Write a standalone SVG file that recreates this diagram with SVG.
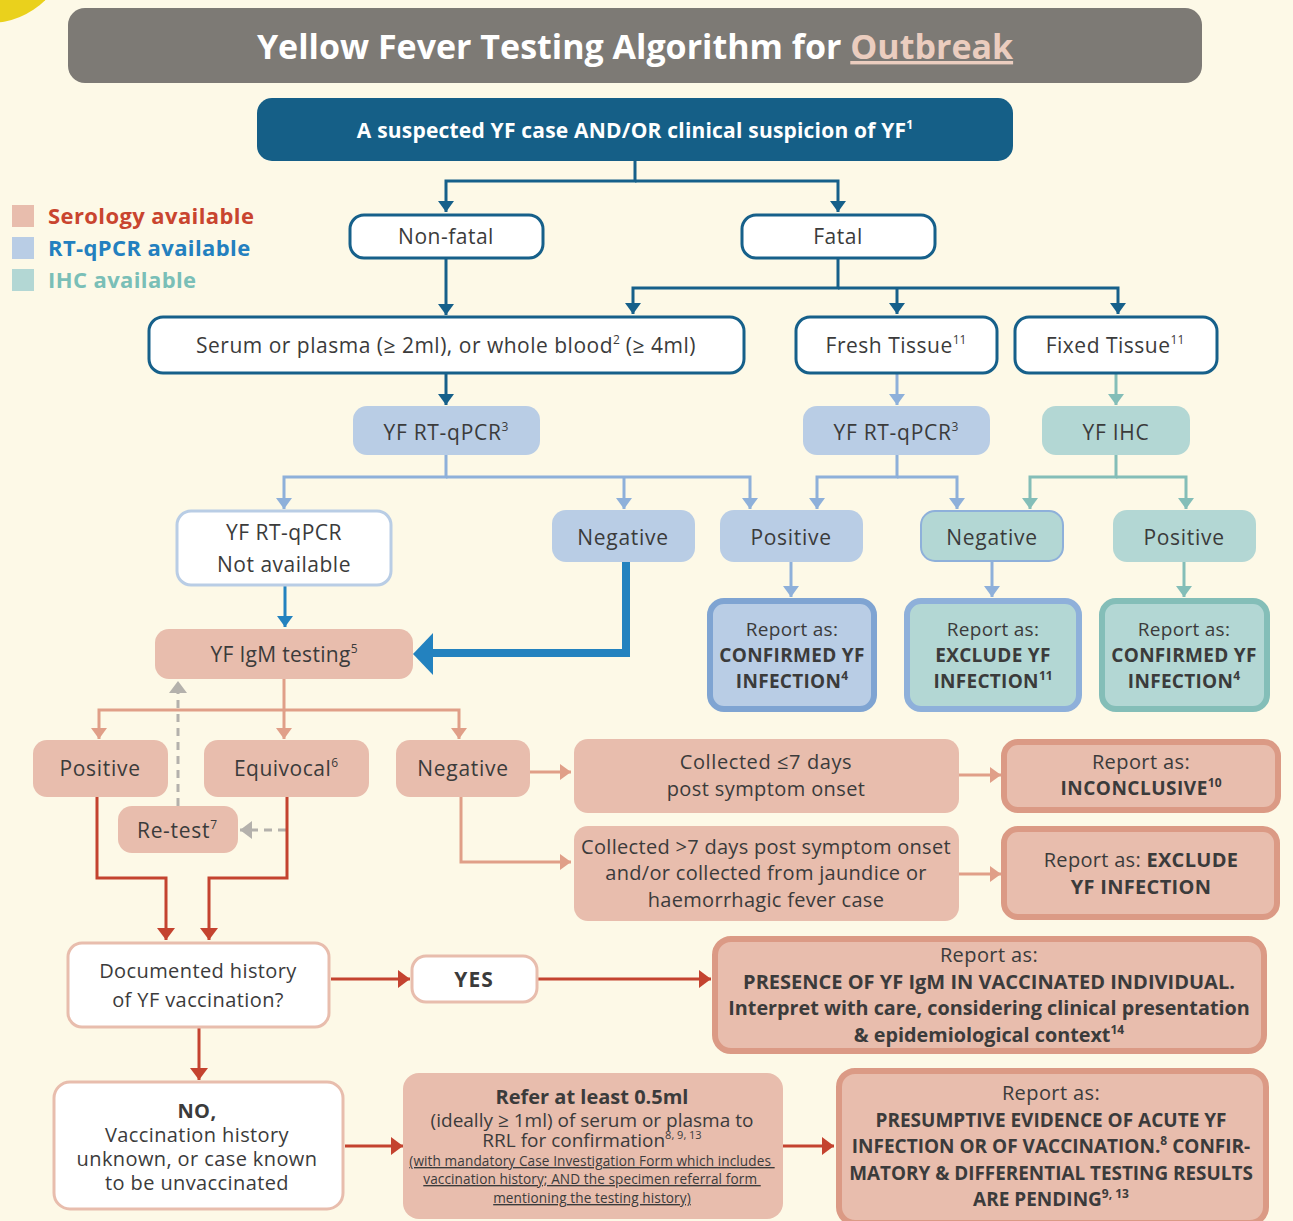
<svg xmlns="http://www.w3.org/2000/svg" width="1293" height="1221" viewBox="0 0 1293 1221">
<defs>
<style>
text{font-family:"Open Sans","Noto Sans","Liberation Sans",sans-serif;fill:#3B3B3B;text-anchor:middle;font-size:21px;letter-spacing:0.5px}
.b{font-weight:bold}
.m{font-size:20px;letter-spacing:0.4px}
.r{font-size:19px;letter-spacing:0.3px}
.sm{font-size:13.6px;letter-spacing:0.1px;text-decoration:underline}
.sup{font-size:12px;letter-spacing:0}
.ln{fill:none;stroke-width:3}
.db{stroke:#16608A}
.lb{stroke:#8EB0DA}
.tl{stroke:#84BEB8}
.sa{stroke:#E09F88}
.rd{stroke:#C4432F}
.gy{stroke:#B4B1AC;stroke-dasharray:8 6}
.nW{fill:#fff;stroke:#16608A;stroke-width:3}
.nB{fill:#B9CDE5}
.nT{fill:#B3D7D4}
.nS{fill:#E8BDAD}
.nWS{fill:#fff;stroke:#E8BDAD;stroke-width:3}
.rB{fill:#B9CDE5;stroke:#7FA4D2;stroke-width:6}
.rT{fill:#B3D7D4;stroke:#8EB0DA;stroke-width:6}
.rTT{fill:#B3D7D4;stroke:#84BEB8;stroke-width:6}
.rS{fill:#E8BDAD;stroke:#DB9A85;stroke-width:6}
</style>
<marker id="mDB" viewBox="0 0 10 10" refX="10" refY="5" markerWidth="11" markerHeight="16" markerUnits="userSpaceOnUse" orient="auto" preserveAspectRatio="none"><path d="M0,0L10,5L0,10z" fill="#16608A"/></marker>
<marker id="mLB" viewBox="0 0 10 10" refX="10" refY="5" markerWidth="11" markerHeight="16" markerUnits="userSpaceOnUse" orient="auto" preserveAspectRatio="none"><path d="M0,0L10,5L0,10z" fill="#8EB0DA"/></marker>
<marker id="mTL" viewBox="0 0 10 10" refX="10" refY="5" markerWidth="11" markerHeight="16" markerUnits="userSpaceOnUse" orient="auto" preserveAspectRatio="none"><path d="M0,0L10,5L0,10z" fill="#84BEB8"/></marker>
<marker id="mSA" viewBox="0 0 10 10" refX="10" refY="5" markerWidth="11" markerHeight="16" markerUnits="userSpaceOnUse" orient="auto" preserveAspectRatio="none"><path d="M0,0L10,5L0,10z" fill="#E09F88"/></marker>
<marker id="mRD" viewBox="0 0 10 10" refX="10" refY="5" markerWidth="12" markerHeight="18" markerUnits="userSpaceOnUse" orient="auto" preserveAspectRatio="none"><path d="M0,0L10,5L0,10z" fill="#C4432F"/></marker>
<marker id="mBL" viewBox="0 0 10 10" refX="10" refY="5" markerWidth="11" markerHeight="16" markerUnits="userSpaceOnUse" orient="auto" preserveAspectRatio="none"><path d="M0,0L10,5L0,10z" fill="#2382BF"/></marker>
<marker id="mGY" viewBox="0 0 10 10" refX="10" refY="5" markerWidth="12" markerHeight="18" markerUnits="userSpaceOnUse" orient="auto" preserveAspectRatio="none"><path d="M0,0L10,5L0,10z" fill="#B4B1AC"/></marker>
</defs>
<rect width="1293" height="1221" fill="#FDF9E7"/>
<circle cx="-10" cy="-55" r="78" fill="#EAD11C"/>

<g id="title">
<rect x="68" y="8" width="1134" height="75" rx="17" fill="#7D7A75"/>
<text x="635" y="59" class="b" style="font-size:34px;letter-spacing:0"><tspan fill="#fff">Yellow Fever Testing Algorithm for </tspan><tspan fill="#EBCDBF" text-decoration="underline">Outbreak</tspan></text>
</g>

<g id="legend">
<rect x="12" y="205" width="22" height="22" fill="#E8BDAD"/>
<rect x="12" y="237" width="22" height="22" fill="#B9CDE5"/>
<rect x="12" y="269" width="22" height="22" fill="#B3D7D4"/>
<text x="48" y="224" class="b" style="text-anchor:start;fill:#C9452F;font-size:22px;letter-spacing:0.4px">Serology available</text>
<text x="48" y="256" class="b" style="text-anchor:start;fill:#2380BF;font-size:22px;letter-spacing:0.4px">RT-qPCR available</text>
<text x="48" y="288" class="b" style="text-anchor:start;fill:#7ABFB7;font-size:22px;letter-spacing:0.4px">IHC available</text>
</g>

<g id="connectors">
<path class="ln db" d="M635,161V181H446V212" marker-end="url(#mDB)"/>
<path class="ln db" d="M635,181H838V212" marker-end="url(#mDB)"/>
<path class="ln db" d="M446,258V315" marker-end="url(#mDB)"/>
<path class="ln db" d="M838,258V288H633V314" marker-end="url(#mDB)"/>
<path class="ln db" d="M838,288H1118V314" marker-end="url(#mDB)"/>
<path class="ln db" d="M897,288V314" marker-end="url(#mDB)"/>
<path class="ln db" d="M446,373V405" marker-end="url(#mDB)"/>
<path class="ln lb" d="M897,373V405" marker-end="url(#mLB)"/>
<path class="ln tl" d="M1116,373V405" marker-end="url(#mTL)"/>
<path class="ln lb" d="M446,455V477H284V509" marker-end="url(#mLB)"/>
<path class="ln lb" d="M446,477H750V509" marker-end="url(#mLB)"/>
<path class="ln lb" d="M624,477V509" marker-end="url(#mLB)"/>
<path class="ln lb" d="M897,455V477H817V509" marker-end="url(#mLB)"/>
<path class="ln lb" d="M897,477H957V509" marker-end="url(#mLB)"/>
<path class="ln tl" d="M1116,455V477H1030V509" marker-end="url(#mTL)"/>
<path class="ln tl" d="M1116,477H1186V509" marker-end="url(#mTL)"/>
<path class="ln lb" d="M791,562V597" marker-end="url(#mLB)"/>
<path class="ln lb" d="M992,562V597" marker-end="url(#mLB)"/>
<path class="ln tl" d="M1184,562V597" marker-end="url(#mTL)"/>
<path fill="none" stroke="#2382BF" stroke-width="3" d="M285,585V627" marker-end="url(#mBL)"/>
<path fill="none" stroke="#2382BF" stroke-width="8" d="M626,562V653H430"/>
<path fill="#2382BF" d="M413,654L433,633V675z"/>
<path class="ln sa" d="M284,679V710H99V739" marker-end="url(#mSA)"/>
<path class="ln sa" d="M284,710H459V739" marker-end="url(#mSA)"/>
<path class="ln sa" d="M284,710V739" marker-end="url(#mSA)"/>
<path class="ln gy" d="M178,806V681" marker-end="url(#mGY)"/>
<path class="ln gy" d="M286,830H240" marker-end="url(#mGY)"/>
<path class="ln sa" d="M530,772H571" marker-end="url(#mSA)"/>
<path class="ln sa" d="M461,797V862H571" marker-end="url(#mSA)"/>
<path class="ln sa" d="M959,775H1001" marker-end="url(#mSA)"/>
<path class="ln sa" d="M959,874H1001" marker-end="url(#mSA)"/>
<path class="ln rd" d="M97,797V878H166V940" marker-end="url(#mRD)"/>
<path class="ln rd" d="M287,797V878H209V940" marker-end="url(#mRD)"/>
<path class="ln rd" d="M331,979H410" marker-end="url(#mRD)"/>
<path class="ln rd" d="M538,979H711" marker-end="url(#mRD)"/>
<path class="ln rd" d="M199,1028V1080" marker-end="url(#mRD)"/>
<path class="ln rd" d="M345,1146H403" marker-end="url(#mRD)"/>
<path class="ln rd" d="M783,1146H834" marker-end="url(#mRD)"/>
</g>

<g id="n-start"><rect x="257" y="98" width="756" height="63" rx="15" fill="#155F87"/>
<text x="635" y="138" class="b" style="fill:#fff;letter-spacing:0.2px">A suspected YF case AND/OR clinical suspicion of YF<tspan class="sup" font-size="11" dy="-9">1</tspan></text></g>

<g id="n-nonfatal"><rect x="350" y="215" width="193" height="43" rx="14" class="nW"/><text x="446" y="244">Non-fatal</text></g>
<g id="n-fatal"><rect x="742" y="215" width="193" height="43" rx="14" class="nW"/><text x="838" y="244">Fatal</text></g>

<g id="n-serum"><rect x="149" y="317" width="595" height="56" rx="14" class="nW"/><text x="446" y="353">Serum or plasma (≥ 2ml), or whole blood<tspan class="sup" dy="-9">2</tspan><tspan dy="9"> (≥ 4ml)</tspan></text></g>
<g id="n-fresh"><rect x="796" y="317" width="201" height="56" rx="14" class="nW"/><text x="896" y="353">Fresh Tissue<tspan class="sup" dy="-9">11</tspan></text></g>
<g id="n-fixed"><rect x="1015" y="317" width="202" height="56" rx="14" class="nW"/><text x="1115" y="353">Fixed Tissue<tspan class="sup" dy="-9">11</tspan></text></g>

<g id="n-pcr1"><rect x="353" y="406" width="187" height="49" rx="14" class="nB"/><text x="446" y="440" style="letter-spacing:0.7px">YF RT-qPCR<tspan class="sup" dy="-9">3</tspan></text></g>
<g id="n-pcr2"><rect x="803" y="406" width="187" height="49" rx="14" class="nB"/><text x="896" y="440" style="letter-spacing:0.7px">YF RT-qPCR<tspan class="sup" dy="-9">3</tspan></text></g>
<g id="n-ihc"><rect x="1042" y="406" width="148" height="49" rx="14" class="nT"/><text x="1116" y="440" style="letter-spacing:0.7px">YF IHC</text></g>

<g id="n-na"><rect x="177" y="511" width="214" height="74" rx="14" fill="#fff" stroke="#B9CDE5" stroke-width="3"/><text x="284" y="540">YF RT-qPCR</text><text x="284" y="572">Not available</text></g>
<g id="n-neg1"><rect x="552" y="510" width="143" height="52" rx="14" class="nB"/><text x="623" y="545" style="letter-spacing:0.7px">Negative</text></g>
<g id="n-pos1"><rect x="720" y="510" width="143" height="52" rx="14" class="nB"/><text x="791" y="545" style="letter-spacing:0.7px">Positive</text></g>
<g id="n-neg2"><rect x="921" y="511" width="142" height="50" rx="14" fill="#B3D7D4" stroke="#8EB0DA" stroke-width="2"/><text x="992" y="545" style="letter-spacing:0.7px">Negative</text></g>
<g id="n-pos2"><rect x="1113" y="510" width="143" height="52" rx="14" class="nT"/><text x="1184" y="545" style="letter-spacing:0.7px">Positive</text></g>

<g id="n-r1"><rect x="710" y="601" width="164" height="108" rx="14" class="rB"/><text x="792" y="636" class="r">Report as:</text><text x="792" y="662" class="r b">CONFIRMED YF</text><text x="792" y="688" class="r b">INFECTION<tspan class="sup" font-size="10" dy="-8">4</tspan></text></g>
<g id="n-r2"><rect x="907" y="601" width="172" height="108" rx="14" class="rT"/><text x="993" y="636" class="r">Report as:</text><text x="993" y="662" class="r b">EXCLUDE YF</text><text x="993" y="688" class="r b">INFECTION<tspan class="sup" font-size="10" dy="-8">11</tspan></text></g>
<g id="n-r3"><rect x="1102" y="601" width="165" height="108" rx="14" class="rTT"/><text x="1184" y="636" class="r">Report as:</text><text x="1184" y="662" class="r b">CONFIRMED YF</text><text x="1184" y="688" class="r b">INFECTION<tspan class="sup" font-size="10" dy="-8">4</tspan></text></g>

<g id="n-igm"><rect x="155" y="629" width="258" height="50" rx="14" class="nS"/><text x="284" y="662" style="letter-spacing:0.3px">YF IgM testing<tspan class="sup" dy="-9">5</tspan></text></g>

<g id="n-pos3"><rect x="33" y="740" width="135" height="57" rx="14" class="nS"/><text x="100" y="776" style="letter-spacing:0.7px">Positive</text></g>
<g id="n-eq"><rect x="204" y="740" width="165" height="57" rx="14" class="nS"/><text x="286" y="776">Equivocal<tspan class="sup" dy="-9">6</tspan></text></g>
<g id="n-neg3"><rect x="396" y="740" width="134" height="57" rx="14" class="nS"/><text x="463" y="776" style="letter-spacing:0.7px">Negative</text></g>
<g id="n-retest"><rect x="118" y="806" width="120" height="47" rx="14" class="nS"/><text x="177" y="838" style="letter-spacing:0.7px">Re-test<tspan class="sup" dy="-9">7</tspan></text></g>

<g id="n-le7"><rect x="574" y="739" width="385" height="74" rx="14" class="nS"/><text x="766" y="769" class="m" style="letter-spacing:0.6px">Collected ≤7 days</text><text x="766" y="796" class="m">post symptom onset</text></g>
<g id="n-gt7"><rect x="574" y="826" width="385" height="95" rx="14" class="nS"/><text x="766" y="854" class="m" style="letter-spacing:0.3px">Collected &gt;7 days post symptom onset</text><text x="766" y="880" class="m" style="letter-spacing:0.3px">and/or collected from jaundice or</text><text x="766" y="907" class="m" style="letter-spacing:0.3px">haemorrhagic fever case</text></g>

<g id="n-inc"><rect x="1004" y="742" width="274" height="68" rx="14" class="rS"/><text x="1141" y="769" class="m">Report as:</text><text x="1141" y="795" class="b" style="font-size:19px;letter-spacing:0.5px">INCONCLUSIVE<tspan class="sup" font-size="10" dy="-8">10</tspan></text></g>
<g id="n-exc"><rect x="1004" y="829" width="273" height="88" rx="14" class="rS"/><text x="1141" y="867" class="m" style="letter-spacing:0.3px">Report as: <tspan class="b">EXCLUDE</tspan></text><text x="1141" y="894" class="m b" style="letter-spacing:0.3px">YF INFECTION</text></g>

<g id="n-doc"><rect x="68" y="943" width="261" height="84" rx="14" class="nWS"/><text x="198" y="978" class="m">Documented history</text><text x="198" y="1007" class="m">of YF vaccination?</text></g>
<g id="n-yes"><rect x="412" y="956" width="125" height="46" rx="14" class="nWS"/><text x="474" y="987" class="b" style="letter-spacing:1px">YES</text></g>
<g id="n-pres"><rect x="715" y="939" width="549" height="112" rx="16" class="rS"/><text x="989" y="962" class="m">Report as:</text><text x="989" y="989" class="b" style="font-size:20px;letter-spacing:0">PRESENCE OF YF IgM IN VACCINATED INDIVIDUAL.</text><text x="989" y="1015" class="b" style="font-size:19.8px;letter-spacing:0">Interpret with care, considering clinical presentation</text><text x="989" y="1042" class="b" style="font-size:19.8px;letter-spacing:0">&amp; epidemiological context<tspan class="sup" font-size="11" dy="-8">14</tspan></text></g>

<g id="n-no"><rect x="54" y="1082" width="289" height="127" rx="16" class="nWS"/><text x="197" y="1118" class="m"><tspan class="b">NO,</tspan><tspan x="197" dy="24">Vaccination history</tspan><tspan x="197" dy="24">unknown, or case known</tspan><tspan x="197" dy="24">to be unvaccinated</tspan></text></g>
<g id="n-refer"><rect x="403" y="1073" width="380" height="146" rx="16" class="nS"/><text x="592" y="1104" style="letter-spacing:0"><tspan class="b" style="font-size:20px">Refer at least 0.5ml</tspan><tspan x="592" dy="23" style="font-size:19px">(ideally ≥ 1ml) of serum or plasma to</tspan><tspan x="592" dy="20" style="font-size:19px">RRL for confirmation</tspan><tspan font-size="11" dy="-8">8, 9, 13</tspan></text><text x="592" y="1166" class="sm"><tspan>(with mandatory Case Investigation Form which includes </tspan><tspan x="592" dy="18">vaccination history; AND the specimen referral form </tspan><tspan x="592" dy="19">mentioning the testing history)</tspan></text></g>
<g id="n-presum"><rect x="839" y="1071" width="427" height="152" rx="16" class="rS"/><text x="1051" y="1100" class="m">Report as:</text><text x="1051" y="1127" class="b" style="font-size:19px;letter-spacing:0">PRESUMPTIVE EVIDENCE OF ACUTE YF</text><text x="1051" y="1153" class="b" style="font-size:19px;letter-spacing:0">INFECTION OR OF VACCINATION.<tspan class="sup" font-size="10" dy="-8">8</tspan><tspan dy="8"> CONFIR-</tspan></text><text x="1051" y="1180" class="b" style="font-size:18.9px;letter-spacing:0">MATORY &amp; DIFFERENTIAL TESTING RESULTS</text><text x="1051" y="1206" class="b" style="font-size:19px;letter-spacing:0">ARE PENDING<tspan class="sup" font-size="10" dy="-8">9, 13</tspan></text></g>
</svg>
